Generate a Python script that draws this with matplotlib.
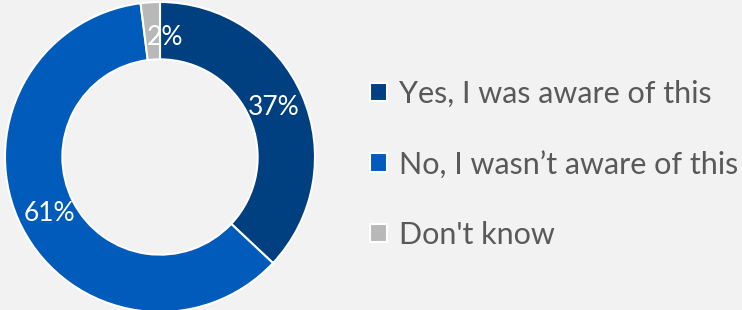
import matplotlib
matplotlib.use("Agg")
import matplotlib.pyplot as plt
import numpy as np

# datos
categorias = ["Yes, I was aware of this", "No, I wasn\u2019t aware of this", "Don't know"]
valores = [37, 61, 2]
etiquetas = ["37%", "61%", "2%"]
colores = ["#003F80", "#005BBB", "#B8B8B8"]

plt.rcParams["font.family"] = ["Lato", "DejaVu Sans"]

fig = plt.figure(figsize=(7.42, 3.10), dpi=100)
fig.patch.set_facecolor("#F2F2F2")

ax = fig.add_axes([5 / 742, -2 / 310, 310 / 742, 310 / 310])
ax.set_facecolor("#F2F2F2")
wedges, _ = ax.pie(valores, colors=colores, startangle=90, counterclock=False,
                   radius=1, wedgeprops=dict(width=0.37, edgecolor="white", linewidth=1.5))
ax.set_xlim(-1, 1)
ax.set_ylim(-1, 1)
ax.set_aspect("equal")
ax.axis("off")

# etiquetas de porcentaje en el anillo
inicio = 90
total = sum(valores)
r = 0.8
for v, txt in zip(valores, etiquetas):
    medio = inicio - v / total * 360 / 2
    inicio -= v / total * 360
    ang = np.deg2rad(medio)
    dx = 0.08 if v < 5 else 0
    dy = -0.03 if v < 5 else 0
    ax.text(r * np.cos(ang) + dx, r * np.sin(ang) + dy, txt, color="white",
            fontsize=19, ha="center", va="center")

leg = fig.legend(wedges, categorias, loc="center left", bbox_to_anchor=(370 / 742, 0.47),
                 frameon=False, fontsize=22, labelcolor="#595959",
                 handlelength=0.55, handleheight=0.55, handletextpad=0.4,
                 labelspacing=1.4, borderpad=0, borderaxespad=0)

fig.savefig("out.png", dpi=100, facecolor=fig.get_facecolor())
